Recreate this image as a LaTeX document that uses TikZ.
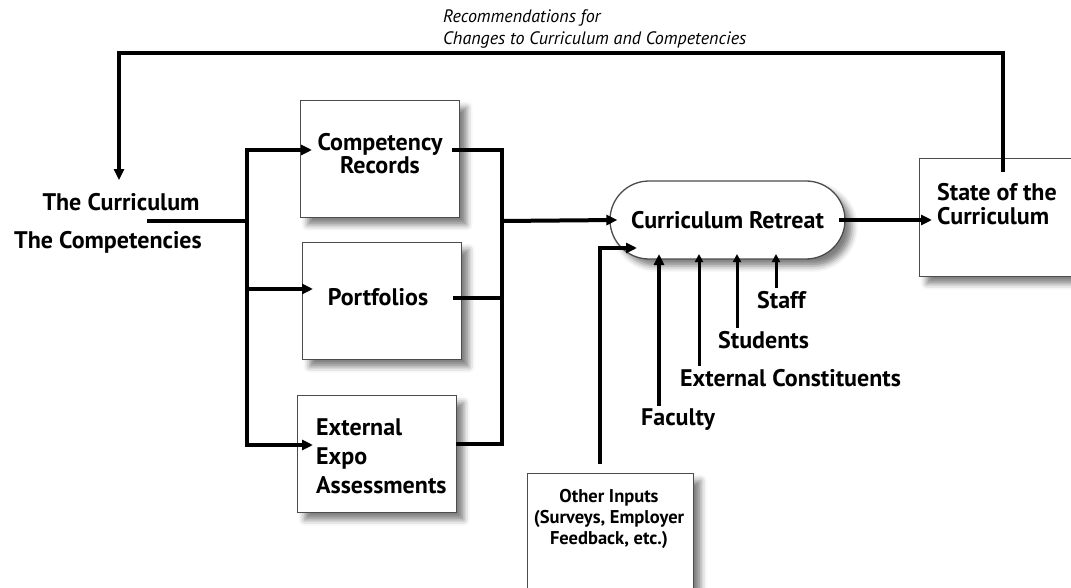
\documentclass[tikz,border=0pt]{standalone}
\usepackage{fontspec}
\setmainfont{PT Sans}
\usetikzlibrary{arrows.meta,positioning,shadows.blur,calc}

\newcommand\diagbold{\fontsize{24}{20}\selectfont\bfseries}

\tikzset{
  bus/.style={line width=4pt},
  feed/.style={line width=4pt,-{Triangle[length=11pt,width=10pt]}},
  thin feed/.style={line width=3pt,-{Triangle[length=8pt,width=8pt]}},
  shade/.style={blur shadow={shadow xshift=7pt,shadow yshift=-7pt,shadow blur radius=6pt,shadow opacity=50}},
  stagebox/.style={draw=black!70,line width=1.3pt,fill=white,anchor=north west,
    minimum width=159pt,minimum height=117pt,shade},
  boxtext/.style={font=\diagbold,align=center,inner sep=0pt},
  plain/.style={font=\diagbold,inner sep=0pt},
}

\begin{document}
\begin{tikzpicture}[x=1pt,y=-1pt]
  \useasboundingbox (0,0) rectangle (1071,588);

  % the three records of the students
  \node[stagebox] (recbox) at (300,100) {};
  \node[boxtext] (rectext) at (380,154) {Competency\\Records};
  \node[stagebox] (portbox) at (302,242) {};
  \node[plain] (porttext) at (378,297) {Portfolios};
  \node[stagebox] (expobox) at (297,395) {};
  \node[plain,font=\fontsize{24}{29}\selectfont\bfseries,align=left,anchor=west] (expotext)
    at (316,456) {External\\Expo\\Assessments};

  % the retreat and what comes out of it
  \node[draw=black!70,line width=1.3pt,fill=white,rounded corners=39pt,
    minimum width=235pt,minimum height=78pt,shade,font=\diagbold] (retreat)
    at (727.5,220) {Curriculum Retreat};
  \node[stagebox,minimum width=170pt,minimum height=118pt] (state) at (919,158) {};
  \node[boxtext,font=\fontsize{24}{24}\selectfont\bfseries,align=left,anchor=west] (statetext)
    at (937,204) {State of the\\Curriculum};
  \node[stagebox,minimum width=166pt,minimum height=130pt] (other) at (527,473) {};
  \node[boxtext,font=\fontsize{18.5}{21}\selectfont\bfseries] (othertext) at (609,519)
    {Other Inputs\\(Surveys, Employer\\Feedback, etc.)};

  % labels
  \node[plain] (curric) at (121,202) {The Curriculum};
  \node[plain] (compet) at (108,242) {The Competencies};
  \node[font=\fontsize{18}{22}\selectfont\itshape,align=left,anchor=west,inner sep=0pt] (recomm)
    at (443,29) {Recommendations for\\Changes to Curriculum and Competencies};
  \node[plain,anchor=west] (fac) at (641,420) {Faculty};
  \node[plain,anchor=west] (extc) at (680,378) {External Constituents};
  \node[plain,anchor=west] (stud) at (718,340) {Students};
  \node[plain,anchor=west] (staff) at (757,300) {Staff};

  % junctions
  \coordinate (srcpt) at (147,221);
  \coordinate (lbus) at (247,221);
  \coordinate (rbus) at (502,221);
  \coordinate (recin) at (312,150);
  \coordinate (portin) at (313,289);
  \coordinate (expoin) at (313,445);
  \coordinate (recout) at (452,150);
  \coordinate (portout) at (453,298);
  \coordinate (expoout) at (456,444);
  \coordinate (fbtop) at (1003,53);
  \coordinate (othup) at (600,464);
  \coordinate (othin) at (637,248);
  \coordinate (tipline) at (0,254);

  % into the records
  \draw[bus] (srcpt) -- (lbus);
  \draw[bus,{Triangle[length=11pt,width=10pt]}-{Triangle[length=11pt,width=10pt]}]
    (recin) -| (lbus) |- (expoin);
  \draw[feed] (lbus |- portin) -- (portin);

  % out of the records
  \draw[bus] (recout) -| (rbus) |- (expoout);
  \draw[bus] (portout) -- (portout -| rbus);
  \draw[feed] (rbus) -- ([xshift=8pt]retreat.west);
  \draw[feed] ([xshift=-7pt]retreat.east) -- ([xshift=13pt]retreat.east -| state.west);

  % other inputs to the retreat
  \draw[feed] (othup) |- (othin);
  \draw[feed] ([xshift=18pt,yshift=3pt]fac.north west) -- ([xshift=18pt]fac.north west |- tipline);
  \foreach \who in {extc,stud,staff}
    \draw[thin feed] ([xshift=19pt,yshift=3pt]\who.north west) -- ([xshift=19pt]\who.north west |- tipline);

  % back to the start
  \draw[feed] ([yshift=-14pt]state.north -| fbtop) -- (fbtop) -| ([yshift=13pt]curric.north -| 119,0);
\end{tikzpicture}
\end{document}
